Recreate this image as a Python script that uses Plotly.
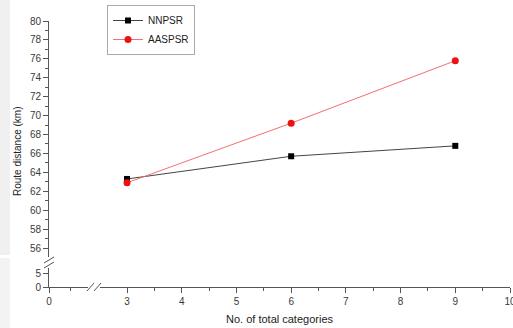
import plotly.graph_objects as go

categories = [3, 6, 9]
nnpsr = [63.3, 65.7, 66.8]
aaspsr = [62.9, 69.2, 75.8]
series_names = ["NNPSR", "AASPSR"]
y_upper_ticks = list(range(56, 81, 2))
y_lower_ticks = [0, 5]
x_main_ticks = list(range(3, 11))
x_lower_ticks = [0]

W, H = 513, 328
L, R, T, B = 49, 3, 21, 41
PW, PH = W - L - R, H - T - B

def px(xpix):
    return (xpix - L) / PW

def py(ypix):
    return (H - B - ypix) / PH

FONT = "Liberation Sans, Arial, sans-serif"
AX = "#555555"

fig = go.Figure()
fig.add_trace(go.Scatter(x=categories, y=nnpsr, name=series_names[0], mode="lines+markers",
                         line=dict(color="#444444", width=1),
                         marker=dict(symbol="square", size=6, color="black"),
                         xaxis="x", yaxis="y"))
fig.add_trace(go.Scatter(x=categories, y=aaspsr, name=series_names[1], mode="lines+markers",
                         line=dict(color="#f07070", width=1),
                         marker=dict(symbol="circle", size=7, color="#ee1111"),
                         xaxis="x", yaxis="y"))
# invisible helpers so the broken-axis segments are drawn
fig.add_trace(go.Scatter(x=[None], y=[None], xaxis="x2", yaxis="y2", showlegend=False, hoverinfo="skip"))
fig.add_trace(go.Scatter(x=[None], y=[None], xaxis="x", yaxis="y2", showlegend=False, hoverinfo="skip"))
fig.add_trace(go.Scatter(x=[None], y=[None], xaxis="x2", yaxis="y", showlegend=False, hoverinfo="skip"))

tickfont = dict(family=FONT, size=10, color="#3a3a3a")
common = dict(showgrid=False, zeroline=False, showline=True, linecolor=AX, linewidth=1,
              ticks="outside", ticklen=5, tickcolor=AX, tickfont=tickfont, fixedrange=True,
              automargin=False, ticklabeloverflow="allow")

fig.update_layout(
    width=W, height=H, margin=dict(l=L, r=R, t=T, b=B, autoexpand=False),
    paper_bgcolor="white", plot_bgcolor="white",
    showlegend=True,
    legend=dict(x=px(107), y=py(5), xanchor="left", yanchor="top",
                bordercolor="#aaaaaa", borderwidth=1, bgcolor="white",
                font=dict(family=FONT, size=10, color="#222222"),
                itemwidth=30, tracegroupgap=0),
    xaxis=dict(domain=[px(100), 1], range=[2.506, 10], anchor="y2",
               tickvals=x_main_ticks, ticktext=[str(v) for v in x_main_ticks],
               minor=dict(dtick=0.5, ticks="outside", ticklen=3, tickcolor=AX),
               **common),
    xaxis2=dict(domain=[0, px(88)], range=[0, 0.89], anchor="y2",
                tickvals=x_lower_ticks, ticktext=[str(v) for v in x_lower_ticks],
                minor=dict(tickvals=[0.5], ticks="outside", ticklen=3, tickcolor=AX),
                **common),
    yaxis=dict(domain=[py(257), 1], range=[55.05, 80], anchor="x2",
               tickvals=y_upper_ticks, ticktext=[str(v) for v in y_upper_ticks],
               minor=dict(dtick=1, ticks="outside", ticklen=3, tickcolor=AX),
               **common),
    yaxis2=dict(domain=[0, py(268)], range=[0, 7.3], anchor="x2",
                tickvals=y_lower_ticks, ticktext=[str(v) for v in y_lower_ticks],
                **common),
)

shapes = []
# gray strip at left
shapes.append(dict(type="rect", xref="paper", yref="paper", x0=px(0), x1=px(10), y0=py(0), y1=py(255),
                   fillcolor="#f0f0f0", line=dict(width=0), layer="below"))
shapes.append(dict(type="rect", xref="paper", yref="paper", x0=px(0), x1=px(10), y0=py(258), y1=py(328),
                   fillcolor="#f3f3f3", line=dict(width=0), layer="below"))
# x break marks
for x0 in (87, 94):
    shapes.append(dict(type="line", xref="paper", yref="paper", x0=px(x0), y0=py(291), x1=px(x0 + 7), y1=py(283),
                       line=dict(color=AX, width=1)))
# y break marks
for y0 in (260, 265):
    shapes.append(dict(type="line", xref="paper", yref="paper", x0=px(44), y0=py(y0 + 3), x1=px(54), y1=py(y0 - 3),
                       line=dict(color=AX, width=1)))
fig.update_layout(shapes=shapes)

fig.add_annotation(text="No. of total categories", xref="paper", yref="paper", x=px(280), y=py(319),
                   xanchor="center", yanchor="middle", showarrow=False,
                   font=dict(family=FONT, size=11, color="#222222"))
fig.add_annotation(text="Route distance (km)", xref="paper", yref="paper", x=px(18), y=py(152),
                   xanchor="center", yanchor="middle", showarrow=False, textangle=-90,
                   font=dict(family=FONT, size=10, color="#222222"))

fig.write_html("out.html", config={"displayModeBar": False},
               post_script="document.body.style.margin='0';document.body.style.overflow='hidden';")
